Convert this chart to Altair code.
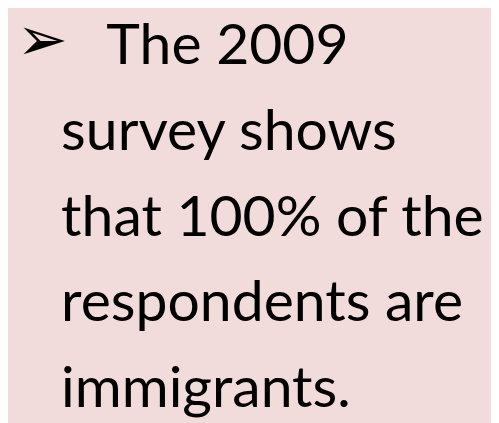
import altair as alt
import pandas as pd

bullet = ["➢"]
lines = ["The 2009", "survey shows", "that 100% of the", "respondents are", "immigrants."]
indents = [1, 0, 0, 0, 0]

df = pd.DataFrame({"text": lines, "line": list(range(len(lines))), "indent": indents})
bdf = pd.DataFrame({"text": bullet, "line": [0]})

yscale = alt.Scale(domain=[-0.5506, 4.112], reverse=True)

text = alt.Chart(df).mark_text(
    font="Lato", fontSize=58, align="left", baseline="alphabetic", color="#000000"
).encode(
    x=alt.X("indent:Q", scale=alt.Scale(domain=[0, 1], range=[54, 100]), axis=None),
    y=alt.Y("line:Q", scale=yscale, axis=None),
    text="text:N",
)

arrow = alt.Chart(bdf).mark_text(
    font="DejaVu Sans", fontSize=62, align="left", baseline="middle", color="#000000",
    dy=-24
).encode(
    x=alt.value(9),
    y=alt.Y("line:Q", scale=yscale, axis=None),
    text="text:N",
)

chart = alt.layer(arrow, text).properties(
    width=491, height=415, background="#F2DCDB", padding=0,
    autosize=alt.AutoSizeParams(type="fit", contains="padding"),
).configure_view(stroke=None)

chart.save("out.html", embed_options={"renderer": "svg", "actions": False})
